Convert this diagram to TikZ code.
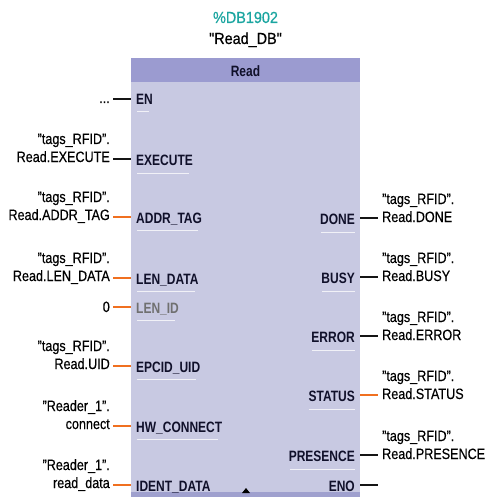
\documentclass[tikz,border=0pt]{standalone}
\usepackage{fontspec}
\setmainfont{Liberation Sans}[FakeStretch=0.84,FakeBold=0.4]
\newfontfamily\pinfont{Liberation Sans}[FakeStretch=0.80]
\newfontfamily\topfont{Liberation Sans}[FakeStretch=0.90,FakeBold=0.8]
\definecolor{bodyfill}{HTML}{C8C9E2}
\definecolor{headfill}{HTML}{9B9BD0}
\definecolor{stripfill}{HTML}{9FA0CE}
\definecolor{wireor}{HTML}{F07020}
\definecolor{wirebk}{HTML}{151515}
\definecolor{teal}{HTML}{1BA5A0}
\definecolor{pintext}{HTML}{10102A}
\definecolor{greypin}{HTML}{707070}
\tikzset{
  exttext/.style={inner sep=0pt, font=\fontsize{15}{18}\selectfont, text=black},
  toptext/.style={inner sep=0pt, font=\topfont\fontsize{16}{19}\selectfont, text=black},
  pinname/.style={inner sep=0pt, font=\pinfont\bfseries\fontsize{15}{18}\selectfont, text=pintext},
  wireblack/.style={draw=wirebk, line width=2pt},
  wireorange/.style={draw=wireor, line width=2pt},
  uline/.style={draw=white, line width=1pt, opacity=0.75}
}
\newcommand{\twolines}[2]{\begin{tabular}[b]{@{}r@{}}#1\\#2\end{tabular}}
\newcommand{\twolinesl}[2]{\begin{tabular}[b]{@{}l@{}}#1\\#2\end{tabular}}
\begin{document}
\begin{tikzpicture}[x=1pt,y=-1pt]
\useasboundingbox (0,0) rectangle (485,497);
% block body
\fill[bodyfill] (131,58) rectangle (360,497);
\fill[headfill] (131,58) rectangle (360,82);
\fill[stripfill] (131,492) rectangle (360,497);
\node[pinname, anchor=base] (title) at (245.5,77) {Read};
\node[toptext, text=teal, anchor=base] (db) at (245.5,23) {\%DB1902};
\node[toptext, anchor=base] (dbname) at (245.5,44) {"Read\_DB"};
\fill[black] (242,493) -- (246,488) -- (250,493) -- cycle;
% left pin names
\node[pinname, anchor=base west] (pEN) at (136,105) {EN};
\node[pinname, anchor=base west] (pEX) at (136,165) {EXECUTE};
\node[pinname, anchor=base west] (pAD) at (136,223) {ADDR\_TAG};
\node[pinname, anchor=base west] (pLD) at (136,284) {LEN\_DATA};
\node[pinname, anchor=base west, text=greypin] (pLI) at (136,313) {LEN\_ID};
\node[pinname, anchor=base west] (pEP) at (136,372) {EPCID\_UID};
\node[pinname, anchor=base west] (pHW) at (136,432) {HW\_CONNECT};
\node[pinname, anchor=base west] (pID) at (136,491) {IDENT\_DATA};
% right pin names
\node[pinname, anchor=base east] (pDO) at (355,224) {DONE};
\node[pinname, anchor=base east] (pBU) at (355,283) {BUSY};
\node[pinname, anchor=base east] (pER) at (355,342) {ERROR};
\node[pinname, anchor=base east] (pST) at (355,401) {STATUS};
\node[pinname, anchor=base east] (pPR) at (355,461) {PRESENCE};
\node[pinname, anchor=base east] (pEO) at (355,491) {ENO};
% underlines
\foreach \n/\dy in {pEN/7,pEX/8,pAD/7,pLD/7,pLI/7,pEP/7,pHW/7}{
  \draw[uline] ([xshift=1pt,yshift=-\dy pt]\n.base west) -- ([xshift=-4pt,yshift=-\dy pt]\n.base east);
}
\foreach \n in {pDO,pBU,pER,pST,pPR}{
  \draw[uline] ([xshift=1pt,yshift=-8pt]\n.base west) -- ([yshift=-8pt]\n.base east);
}
% left external labels
\node[exttext, anchor=base east] (eEN) at (110,103) {...};
\node[exttext, anchor=base east] (eEX) at (110,162) {\twolines{"tags\_RFID".}{Read.EXECUTE}};
\node[exttext, anchor=base east] (eAD) at (110,220) {\twolines{"tags\_RFID".}{Read.ADDR\_TAG}};
\node[exttext, anchor=base east] (eLD) at (110,281) {\twolines{"tags\_RFID".}{Read.LEN\_DATA}};
\node[exttext, anchor=base east] (eLI) at (110,312) {0};
\node[exttext, anchor=base east] (eEP) at (110,369) {\twolines{"tags\_RFID".}{Read.UID}};
\node[exttext, anchor=base east] (eHW) at (110,429) {\twolines{"Reader\_1".}{connect}};
\node[exttext, anchor=base east] (eID) at (110,488) {\twolines{"Reader\_1".}{read\_data}};
% right external labels
\node[exttext, anchor=base west] (eDO) at (382,222) {\twolinesl{"tags\_RFID".}{Read.DONE}};
\node[exttext, anchor=base west] (eBU) at (382,281) {\twolinesl{"tags\_RFID".}{Read.BUSY}};
\node[exttext, anchor=base west] (eER) at (382,340) {\twolinesl{"tags\_RFID".}{Read.ERROR}};
\node[exttext, anchor=base west] (eST) at (382,399) {\twolinesl{"tags\_RFID".}{Read.STATUS}};
\node[exttext, anchor=base west] (ePR) at (382,459) {\twolinesl{"tags\_RFID".}{Read.PRESENCE}};
% wire end coordinates
\coordinate (wEN) at (113,99);
\coordinate (wEX) at (113,159);
\coordinate (wAD) at (113,217);
\coordinate (wLD) at (113,278);
\coordinate (wLI) at (113,307);
\coordinate (wEP) at (113,366);
\coordinate (wHW) at (113,426);
\coordinate (wID) at (113,485);
\coordinate (bEN) at (131,99);
\coordinate (bEX) at (131,159);
\coordinate (bAD) at (131,217);
\coordinate (bLD) at (131,278);
\coordinate (bLI) at (131,307);
\coordinate (bEP) at (131,366);
\coordinate (bHW) at (131,426);
\coordinate (bID) at (131,485);
\draw[wireblack] (wEN) -- (bEN);
\draw[wireblack] (wEX) -- (bEX);
\draw[wireorange] (wAD) -- (bAD);
\draw[wireorange] (wLD) -- (bLD);
\draw[wireorange] (wLI) -- (bLI);
\draw[wireorange] (wEP) -- (bEP);
\draw[wireorange] (wHW) -- (bHW);
\draw[wireorange] (wID) -- (bID);
\coordinate (rDO) at (360,218);
\coordinate (rBU) at (360,277);
\coordinate (rER) at (360,336);
\coordinate (rST) at (360,395);
\coordinate (rPR) at (360,455);
\coordinate (rEO) at (360,485);
\coordinate (sDO) at (378,218);
\coordinate (sBU) at (378,277);
\coordinate (sER) at (378,336);
\coordinate (sST) at (378,395);
\coordinate (sPR) at (378,455);
\coordinate (sEO) at (378,485);
\draw[wireblack] (rDO) -- (sDO);
\draw[wireblack] (rBU) -- (sBU);
\draw[wireblack] (rER) -- (sER);
\draw[wireorange] (rST) -- (sST);
\draw[wireblack] (rPR) -- (sPR);
\draw[wireblack] (rEO) -- (sEO);
\end{tikzpicture}
\end{document}
